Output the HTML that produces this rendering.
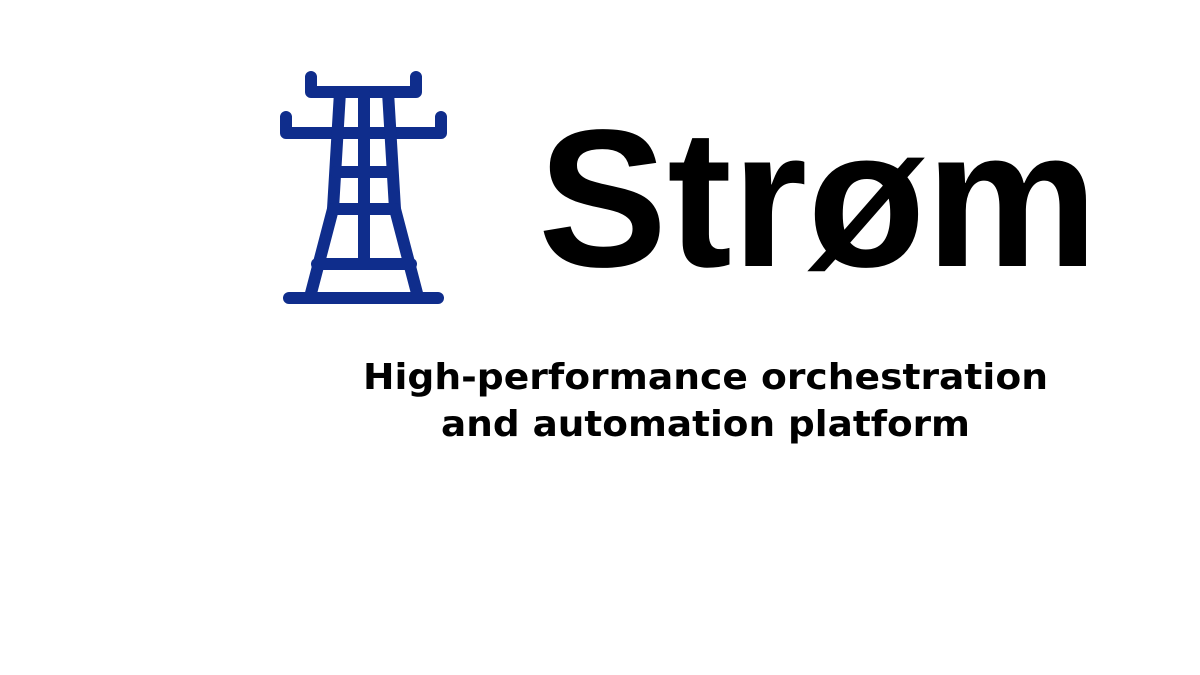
<!DOCTYPE html>
<html><head><meta charset="utf-8"><style>
html,body{margin:0;padding:0;background:#fff;width:1200px;height:675px;overflow:hidden}
</style></head><body>
<svg width="1200" height="675" viewBox="0 0 1200 675" xmlns="http://www.w3.org/2000/svg">
<g stroke="#0f2d8c" stroke-width="12" stroke-linecap="round" stroke-linejoin="round" fill="none">
<path d="M311 77 V92 H416 V77"/>
<path d="M286 117 V133 H441 V117"/>
<line x1="364" y1="92" x2="364" y2="264"/>
<path d="M340 92 L333 209 L310 297"/>
<path d="M388 92 L395 209 L418 297"/>
<line x1="336" y1="172" x2="392" y2="172"/>
<line x1="333" y1="209" x2="395" y2="209"/>
<line x1="317" y1="264" x2="411" y2="264"/>
<line x1="289" y1="298" x2="438" y2="298"/>
</g>
<text x="538" y="266" font-family="Liberation Sans, sans-serif" font-weight="bold" font-size="196" textLength="560" lengthAdjust="spacingAndGlyphs" fill="#000">Strøm</text>
<text x="363" y="389" font-family="DejaVu Sans, sans-serif" font-weight="bold" font-size="36" textLength="685" lengthAdjust="spacingAndGlyphs" fill="#000">High-performance orchestration</text>
<text x="441" y="436" font-family="DejaVu Sans, sans-serif" font-weight="bold" font-size="36" textLength="529" lengthAdjust="spacingAndGlyphs" fill="#000">and automation platform</text>
</svg>
</body></html>
